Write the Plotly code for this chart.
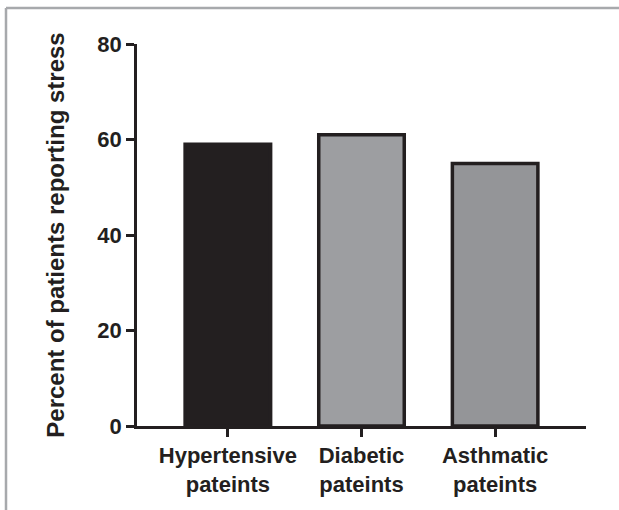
import plotly.graph_objects as go

categories = ["Hypertensive<br>pateints", "Diabetic<br>pateints", "Asthmatic<br>pateints"]
values = [59, 61, 55]
fill_colors = ["#231f20", "#9d9ea1", "#949598"]
y_ticks = [0, 20, 40, 60, 80]

W, H = 619, 510
L, R, T, B = 137, 33, 44, 84
pw, ph = W - L - R, H - T - B

fig = go.Figure()
fig.add_trace(go.Bar(
    x=[0, 1, 2], y=values, width=0.64,
    marker=dict(color=fill_colors, line=dict(color="#231f20", width=3.5)),
))

fig.update_layout(
    width=W, height=H,
    margin=dict(l=L, r=R, t=T, b=B),
    plot_bgcolor="white", paper_bgcolor="white",
    showlegend=False,
    font=dict(family="Liberation Sans, Arial, sans-serif", color="#231f20"),
)
fig.update_xaxes(
    range=[-0.68, 2.68], tickvals=[0, 1, 2], ticktext=["<b>%s</b>" % c for c in categories],
    showline=True, linecolor="#231f20", linewidth=2.5,
    ticks="outside", ticklen=8, tickwidth=2.5, tickcolor="#231f20",
    tickfont=dict(size=22, color="#231f20"), showgrid=False, zeroline=False,
)
fig.update_yaxes(
    range=[0, 80], tickvals=y_ticks, ticktext=["<b>%d</b>" % v for v in y_ticks],
    showline=True, linecolor="#231f20", linewidth=2.5,
    ticks="outside", ticklen=8, tickwidth=2.5, tickcolor="#231f20",
    tickfont=dict(size=22, color="#231f20"), showgrid=False, zeroline=False,
    title=dict(text="<b>Percent of patients reporting stress</b>", font=dict(size=24, color="#231f20"), standoff=26),
)

# frame lines (top and left)
top_y = (H - B - 8) / ph
left_x = (6 - L) / pw
fig.add_shape(type="line", xref="paper", yref="paper", x0=left_x, x1=(W - L) / pw, y0=top_y, y1=top_y,
              line=dict(color="#a7a9ac", width=2.5))
fig.add_shape(type="line", xref="paper", yref="paper", x0=left_x, x1=left_x, y0=top_y, y1=-(B + 5) / ph,
              line=dict(color="#a7a9ac", width=2.5))

fig.write_html("out.html", config={"displayModeBar": False},
               post_script="document.body.style.margin='0px';")
